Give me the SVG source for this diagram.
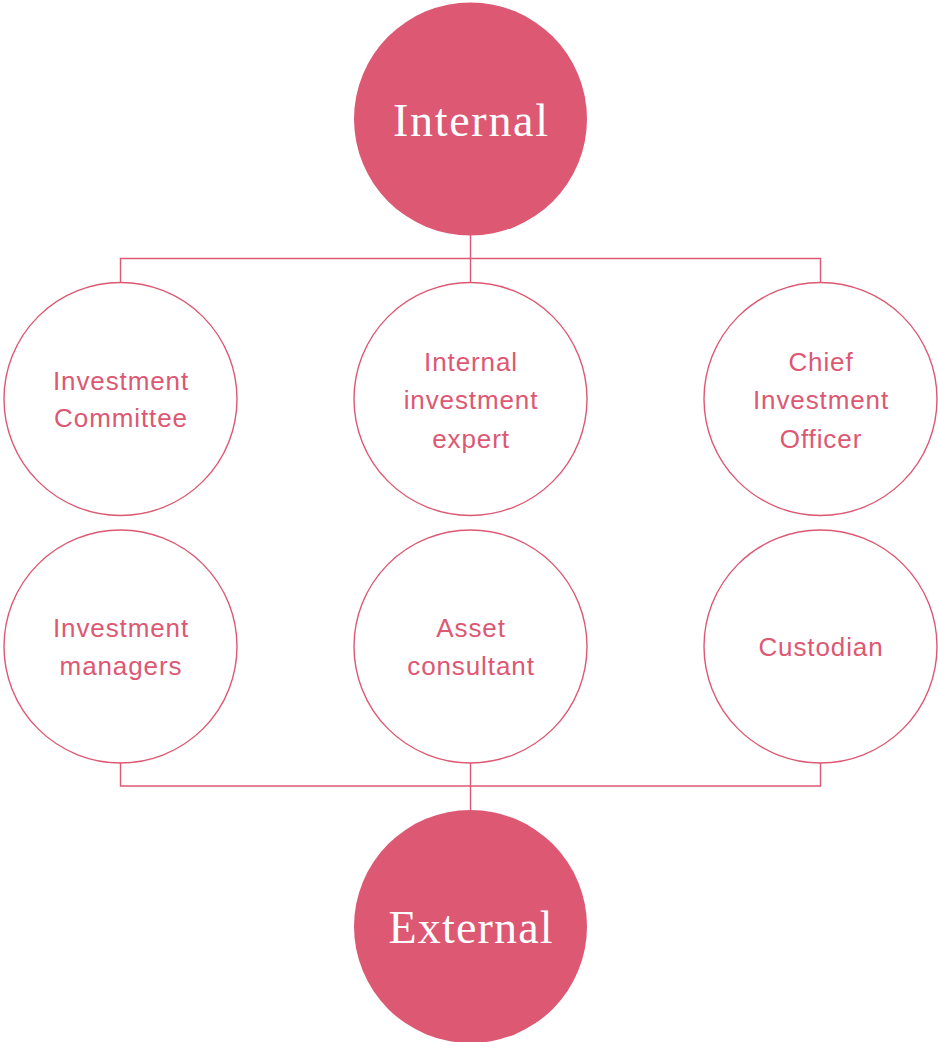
<svg xmlns="http://www.w3.org/2000/svg" width="938" height="1042" viewBox="0 0 938 1042">
  <style>
    .hub { fill: #dc5873; }
    .hub-label { fill: #ffffff; font-family: "Liberation Serif", "DejaVu Serif", serif; font-size: 46px; text-anchor: middle; }
    .ring { fill: #ffffff; stroke: #dc5873; stroke-width: 1.4; }
    .label { fill: #dc5873; font-family: "Liberation Sans", Arial, sans-serif; font-size: 26px; letter-spacing: 0.9px; text-anchor: middle; }
    .wire { fill: none; stroke: #dc5873; stroke-width: 1.4; }
  </style>
  <rect width="938" height="1042" fill="#ffffff"/>

  <!-- connectors -->
  <g id="connectors" class="wire">
    <path d="M470.5 235 V283 M120.5 283 V258.5 H820.5 V283"/>
    <path d="M470.5 763 V810 M120.5 763 V786 H820.5 V763"/>
  </g>

  <g id="internal">
    <circle class="hub" cx="470.5" cy="119" r="116.5"/>
    <text class="hub-label" x="470.5" y="136" textLength="155" lengthAdjust="spacing">Internal</text>
  </g>

  <g id="investment-committee">
    <circle class="ring" cx="120.5" cy="399" r="116.5"/>
    <text class="label" x="121" y="389.5">Investment</text>
    <text class="label" x="121" y="427">Committee</text>
  </g>

  <g id="internal-investment-expert">
    <circle class="ring" cx="470.5" cy="399" r="116.5"/>
    <text class="label" x="471" y="370.7">Internal</text>
    <text class="label" x="471" y="409">investment</text>
    <text class="label" x="471" y="447.5">expert</text>
  </g>

  <g id="chief-investment-officer">
    <circle class="ring" cx="820.5" cy="399" r="116.5"/>
    <text class="label" x="821" y="370.7">Chief</text>
    <text class="label" x="821" y="409">Investment</text>
    <text class="label" x="821" y="447.5">Officer</text>
  </g>

  <g id="investment-managers">
    <circle class="ring" cx="120.5" cy="646.5" r="116.5"/>
    <text class="label" x="121" y="637">Investment</text>
    <text class="label" x="121" y="674.5">managers</text>
  </g>

  <g id="asset-consultant">
    <circle class="ring" cx="470.5" cy="646.5" r="116.5"/>
    <text class="label" x="471" y="637">Asset</text>
    <text class="label" x="471" y="674.5">consultant</text>
  </g>

  <g id="custodian">
    <circle class="ring" cx="820.5" cy="646.5" r="116.5"/>
    <text class="label" x="821" y="656">Custodian</text>
  </g>

  <g id="external">
    <circle class="hub" cx="470.5" cy="926.5" r="116.5"/>
    <text class="hub-label" x="470.5" y="942.7" textLength="164" lengthAdjust="spacing">External</text>
  </g>
</svg>
